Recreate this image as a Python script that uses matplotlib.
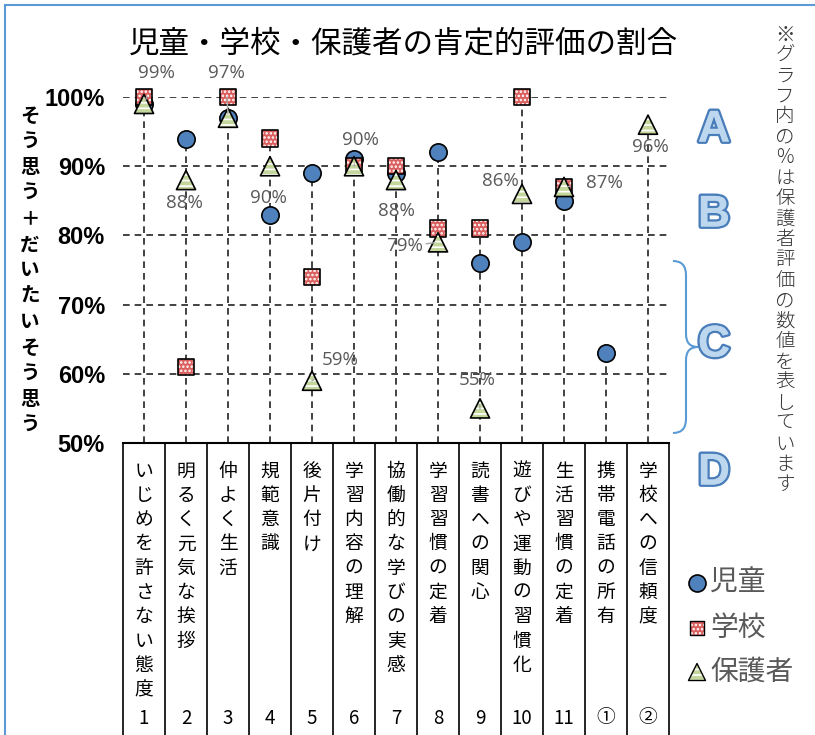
import matplotlib
matplotlib.use("Agg")
import matplotlib.pyplot as plt
import matplotlib.patheffects as pe
from matplotlib.path import Path
from matplotlib.patches import PathPatch, Rectangle

plt.rcParams['font.family'] = ['Noto Sans CJK JP', 'DejaVu Sans']
plt.rcParams['hatch.linewidth'] = 1.2

# data
categories = ["いじめを許さない態度", "明るく元気な挨拶", "仲よく生活", "規範意識", "後片付け",
              "学習内容の理解", "協働的な学びの実感", "学習習慣の定着", "読書への関心",
              "遊びや運動の習慣化", "生活習慣の定着", "携帯電話の所有", "学校への信頼度"]
numbers = ["1", "2", "3", "4", "5", "6", "7", "8", "9", "10", "11", "①", "②"]
jido = [99, 94, 97, 83, 89, 91, 89, 92, 76, 79, 85, 63, None]
gakko = [100, 61, 100, 94, 74, 90, 90, 81, 81, 100, 87, None, None]
hogosha = [99, 88, 97, 90, 59, 90, 88, 79, 55, 86, 87, None, 96]
yticks = [50, 60, 70, 80, 90, 100]

W, H = 815, 735
fig = plt.figure(figsize=(W / 100, H / 100), dpi=100)

# frame (only top/left visible in the crop)
fig.patches.append(Rectangle((5 / W, -0.1), 1.2, 1 - 5 / H + 0.1, transform=fig.transFigure,
                             fill=False, edgecolor="#5B9BD5", lw=1.5))

left, right = 123 / W, 669 / W
bottom, top = 1 - 443 / H, 1 - 97 / H
ax = fig.add_axes([left, bottom, right - left, top - bottom])
ax.set_xlim(0.5, len(categories) + 0.5)
ax.set_ylim(50, 100)
for s in ax.spines.values():
    s.set_visible(False)
ax.set_xticks([])
ax.set_yticks(yticks)
ax.set_yticklabels([f"{v}%" for v in yticks], fontsize=17, fontweight="bold",
                   family=['Liberation Sans Narrow', 'Liberation Sans', 'DejaVu Sans'])
ax.tick_params(axis="y", length=0, pad=13)

for v in yticks[1:]:
    ax.axhline(v, color="#222222", lw=1.2, ls=(0, (4, 3)), zorder=1)

xs = list(range(1, len(categories) + 1))
for x, a, b, c in zip(xs, jido, gakko, hogosha):
    vals = [v for v in (a, b, c) if v is not None]
    ax.vlines(x, 50, max(vals), color="#222222", lw=1.2, ls=(0, (4, 3)), zorder=1)


def pts(vals):
    px = [x for x, v in zip(xs, vals) if v is not None]
    py = [v for v in vals if v is not None]
    return px, py


px, py = pts(jido)
ax.scatter(px, py, s=155, marker="o", c="#4F81BD", edgecolors="black", linewidths=1.2,
           zorder=3, clip_on=False)
px, py = pts(gakko)
ax.scatter(px, py, s=135, marker="s", c="#DA5F5F", edgecolors="white", hatch="....",
           linewidths=0, zorder=4, clip_on=False)
ax.scatter(px, py, s=135, marker="s", facecolors="none", edgecolors="black", linewidths=1.2,
           zorder=4, clip_on=False)
px, py = pts(hogosha)
ax.scatter(px, py, s=190, marker="^", c="#C3D69B", edgecolors="white", hatch="---",
           linewidths=0, zorder=5, clip_on=False)
ax.scatter(px, py, s=190, marker="^", facecolors="none", edgecolors="black", linewidths=1.2,
           zorder=5, clip_on=False)

# data labels (保護者), offsets in pixels from the marker
offsets = {0: (12, 31), 1: (-2, -23), 2: (-2, 45), 3: (-2, -32), 4: (28, 21), 5: (6, 26),
           6: (0, -31), 7: (-33, -4), 8: (-3, 28), 9: (-22, 13), 10: (40, 4), 12: (2, -22)}
leaders = {0, 2, 4, 5, 7, 8, 10}
for i, (dx, dy) in offsets.items():
    v = hogosha[i]
    ax.annotate(f"{v}%", (xs[i], v), xytext=(dx, dy), textcoords="offset pixels",
                ha="center", va="center", fontsize=13.5, color="#595959",
                family=['Open Sans', 'DejaVu Sans'], zorder=6,
                arrowprops=dict(arrowstyle="-", color="#A6A6A6", lw=1, shrinkA=9, shrinkB=3)
                if i in leaders else None)

# overlay axes in pixel units for the surrounding texts
lax = fig.add_axes([0, 0, 1, 1], facecolor="none")
lax.set_xlim(0, W)
lax.set_ylim(H, 0)
lax.axis("off")


def vtext(x, y0, step, s, **kw):
    # vertical writing: one upright character per line
    for k, ch in enumerate(s):
        lax.text(x, y0 + k * step, ch, ha="center", va="center", **kw)


# table under the axis
lax.plot([123, 669], [443, 443], color="black", lw=1.5)
for k in range(len(categories) + 1):
    lax.plot([123 + 42 * k] * 2, [443, H], color="black", lw=1.2)
for k, (name, num) in enumerate(zip(categories, numbers)):
    cx = 144 + 42 * k
    vtext(cx, 471, 24.3, name, fontsize=13.5)
    lax.text(cx, 718, num, ha="center", va="center", fontsize=13.5)

# title
lax.text(403, 44, "児童・学校・保護者の肯定的評価の割合", ha="center", va="center", fontsize=22)

# y label
vtext(30, 116, 25.8, "そう思う＋だいたいそう思う", fontsize=14, fontweight="bold")

# note on right
vtext(785, 35, 20.45, "※グラフ内の%は保護者評価の数値を表しています", fontsize=14,
      fontweight="light", color="#333333")

# A-D letters
for letter, yy in zip("ABCD", [130, 215, 345, 473]):
    lax.text(714, yy, letter, ha="center", va="center", fontsize=32,
             fontweight="bold", color="#BDD7EE", family=['Liberation Sans', 'DejaVu Sans'],
             path_effects=[pe.withStroke(linewidth=3.5, foreground="#4A7EBB"), pe.Normal()])

# brace for C
verts = [(673, 261), (686, 261), (686, 275), (686, 334), (686, 347), (698, 347),
         (686, 347), (686, 360), (686, 419), (686, 433), (673, 433)]
codes = [Path.MOVETO, Path.CURVE3, Path.CURVE3, Path.LINETO, Path.CURVE3, Path.CURVE3,
         Path.CURVE3, Path.CURVE3, Path.LINETO, Path.CURVE3, Path.CURVE3]
lax.add_patch(PathPatch(Path(verts, codes), fill=False, edgecolor="#5B9BD5", lw=1.5))

# legend
leg_y = [583, 628, 672]
lax.scatter([697], [leg_y[0]], s=150, marker="o", c="#4F81BD", edgecolors="black", linewidths=1.2)
lax.scatter([697], [leg_y[1]], s=110, marker="s", c="#DA5F5F", edgecolors="white", hatch="....",
            linewidths=0)
lax.scatter([697], [leg_y[1]], s=110, marker="s", facecolors="none", edgecolors="black",
            linewidths=1.0)
lax.scatter([697], [leg_y[2]], s=150, marker="^", c="#C3D69B", edgecolors="white",
            hatch="---", linewidths=0)
lax.scatter([697], [leg_y[2]], s=150, marker="^", facecolors="none", edgecolors="black",
            linewidths=1.0)
for yy, name in zip(leg_y, ["児童", "学校", "保護者"]):
    lax.text(710, yy, name, ha="left", va="center", fontsize=20, color="#595959")

fig.savefig("out.png", dpi=100)
